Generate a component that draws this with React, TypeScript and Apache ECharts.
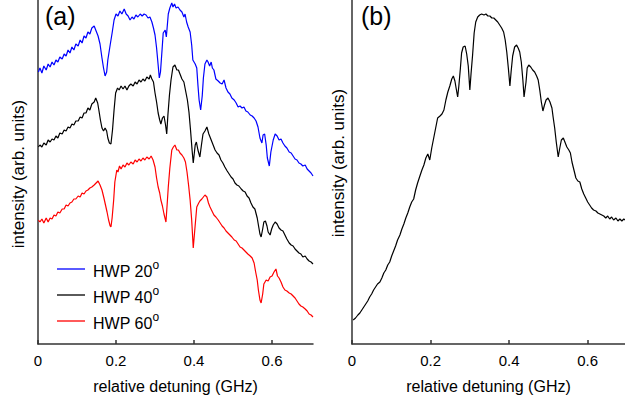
import React, { useEffect, useRef } from "react";
import * as echarts from "echarts";

const FONT = "'Liberation Sans', Arial, Helvetica, sans-serif";

// x: relative detuning (GHz), y: intensity (arb. units)
const hwp20: [number, number][] = [
  [0.001, 272], [0.005, 276], [0.010, 271], [0.015, 278], [0.021, 274], [0.026, 280], [0.031, 277], [0.036, 282],
  [0.041, 279], [0.046, 284], [0.051, 282], [0.056, 287], [0.062, 285], [0.067, 290], [0.072, 288], [0.077, 294],
  [0.082, 291], [0.087, 297], [0.092, 294], [0.097, 300], [0.103, 298], [0.108, 304], [0.113, 301], [0.118, 308],
  [0.123, 306], [0.128, 312], [0.133, 310], [0.138, 316], [0.144, 318], [0.149, 313], [0.154, 308], [0.159, 300],
  [0.164, 286], [0.168, 276], [0.172, 268], [0.176, 272], [0.179, 284], [0.185, 299], [0.190, 311], [0.195, 324],
  [0.200, 330], [0.205, 328], [0.210, 333], [0.215, 330], [0.221, 335], [0.226, 330], [0.231, 328], [0.236, 324],
  [0.241, 327], [0.246, 325], [0.251, 329], [0.256, 327], [0.262, 330], [0.267, 328], [0.272, 330], [0.277, 329],
  [0.282, 326], [0.287, 327], [0.292, 322], [0.296, 316], [0.300, 309], [0.304, 296], [0.308, 279], [0.311, 266],
  [0.314, 272], [0.318, 294], [0.321, 311], [0.326, 314], [0.329, 307], [0.334, 330], [0.338, 336], [0.343, 341],
  [0.346, 337], [0.350, 340], [0.354, 336], [0.359, 337], [0.364, 334], [0.369, 332], [0.374, 327], [0.377, 330],
  [0.381, 322], [0.385, 317], [0.390, 312], [0.394, 299], [0.397, 284], [0.403, 280], [0.407, 276], [0.410, 259],
  [0.413, 244], [0.417, 234], [0.421, 248], [0.424, 266], [0.428, 280], [0.433, 284], [0.436, 282], [0.440, 278],
  [0.444, 282], [0.447, 276], [0.451, 274], [0.456, 265], [0.462, 263], [0.467, 261], [0.472, 260], [0.477, 264],
  [0.482, 256], [0.487, 252], [0.492, 250], [0.497, 246], [0.503, 244], [0.508, 241], [0.513, 237], [0.518, 238],
  [0.523, 236], [0.528, 237], [0.533, 233], [0.538, 232], [0.544, 229], [0.549, 228], [0.554, 226], [0.559, 223],
  [0.564, 217], [0.569, 206], [0.574, 201], [0.577, 209], [0.581, 210], [0.585, 199], [0.588, 186], [0.593, 178],
  [0.597, 192], [0.603, 204], [0.608, 210], [0.613, 208], [0.618, 204], [0.623, 205], [0.628, 201], [0.633, 198],
  [0.638, 196], [0.644, 192], [0.649, 191], [0.654, 188], [0.659, 185], [0.664, 184], [0.669, 181], [0.674, 180],
  [0.679, 178], [0.685, 179], [0.690, 175], [0.695, 173], [0.700, 171], [0.705, 168],
];

const hwp40: [number, number][] = [
  [0.001, 197], [0.005, 199], [0.010, 197], [0.015, 201], [0.021, 199], [0.026, 204], [0.031, 202], [0.036, 205],
  [0.041, 204], [0.046, 208], [0.051, 206], [0.056, 211], [0.062, 210], [0.067, 214], [0.072, 213], [0.077, 217],
  [0.082, 216], [0.087, 220], [0.092, 219], [0.097, 223], [0.103, 223], [0.108, 227], [0.113, 226], [0.118, 231],
  [0.123, 231], [0.128, 236], [0.133, 234], [0.138, 240], [0.144, 242], [0.148, 246], [0.153, 241], [0.156, 234],
  [0.160, 224], [0.164, 216], [0.168, 213], [0.172, 216], [0.176, 213], [0.179, 206], [0.183, 201], [0.187, 200],
  [0.191, 214], [0.195, 234], [0.199, 251], [0.204, 256], [0.208, 254], [0.213, 258], [0.218, 255], [0.223, 258],
  [0.228, 254], [0.233, 258], [0.238, 260], [0.244, 258], [0.249, 262], [0.254, 260], [0.259, 264], [0.264, 262],
  [0.269, 265], [0.274, 263], [0.279, 267], [0.285, 265], [0.288, 269], [0.292, 265], [0.296, 262], [0.300, 251],
  [0.304, 242], [0.308, 231], [0.312, 224], [0.315, 220], [0.319, 226], [0.323, 228], [0.327, 219], [0.330, 210],
  [0.333, 229], [0.337, 249], [0.341, 264], [0.346, 277], [0.351, 279], [0.356, 274], [0.360, 274], [0.364, 270],
  [0.369, 265], [0.374, 262], [0.379, 252], [0.383, 244], [0.387, 232], [0.391, 214], [0.395, 194], [0.398, 181],
  [0.403, 199], [0.406, 202], [0.410, 194], [0.415, 187], [0.419, 199], [0.423, 210], [0.428, 213], [0.433, 217],
  [0.438, 210], [0.444, 204], [0.449, 199], [0.454, 194], [0.459, 191], [0.464, 189], [0.469, 184], [0.474, 181],
  [0.479, 177], [0.485, 173], [0.490, 170], [0.495, 167], [0.500, 165], [0.505, 161], [0.510, 159], [0.515, 158],
  [0.521, 155], [0.526, 153], [0.531, 152], [0.536, 148], [0.541, 146], [0.546, 141], [0.551, 137], [0.556, 135],
  [0.562, 126], [0.565, 119], [0.569, 110], [0.572, 107], [0.576, 115], [0.579, 122], [0.583, 123], [0.587, 118],
  [0.590, 112], [0.595, 109], [0.599, 115], [0.603, 119], [0.608, 122], [0.613, 120], [0.618, 116], [0.623, 114],
  [0.628, 113], [0.633, 109], [0.638, 105], [0.644, 101], [0.649, 99], [0.654, 98], [0.659, 95], [0.664, 93],
  [0.669, 91], [0.674, 90], [0.679, 87], [0.685, 88], [0.690, 85], [0.695, 83], [0.700, 82], [0.705, 80],
];

const hwp60: [number, number][] = [
  [0.001, 124], [0.005, 122], [0.010, 125], [0.015, 121], [0.021, 126], [0.026, 122], [0.031, 126], [0.036, 125],
  [0.041, 129], [0.046, 128], [0.051, 132], [0.056, 131], [0.062, 135], [0.067, 135], [0.072, 139], [0.077, 138],
  [0.082, 141], [0.087, 142], [0.092, 145], [0.097, 145], [0.103, 148], [0.108, 147], [0.113, 151], [0.118, 150],
  [0.123, 153], [0.128, 154], [0.133, 156], [0.138, 157], [0.144, 159], [0.149, 161], [0.154, 163], [0.159, 159],
  [0.164, 154], [0.169, 146], [0.173, 139], [0.177, 132], [0.181, 124], [0.185, 118], [0.187, 117], [0.190, 126],
  [0.194, 144], [0.197, 162], [0.202, 174], [0.205, 172], [0.209, 178], [0.213, 175], [0.218, 179], [0.223, 177],
  [0.228, 181], [0.233, 179], [0.238, 182], [0.244, 180], [0.249, 184], [0.254, 182], [0.259, 185], [0.264, 183],
  [0.269, 186], [0.274, 184], [0.279, 187], [0.285, 185], [0.290, 188], [0.295, 184], [0.300, 177], [0.304, 166],
  [0.308, 157], [0.312, 151], [0.315, 144], [0.319, 138], [0.323, 130], [0.328, 122], [0.331, 139], [0.334, 157],
  [0.338, 176], [0.343, 194], [0.347, 197], [0.351, 199], [0.356, 194], [0.360, 194], [0.364, 191], [0.369, 189],
  [0.374, 186], [0.378, 182], [0.382, 172], [0.386, 159], [0.390, 144], [0.394, 124], [0.398, 96], [0.403, 119],
  [0.407, 137], [0.412, 141], [0.415, 143], [0.420, 145], [0.424, 147], [0.428, 149], [0.433, 147], [0.437, 141],
  [0.441, 137], [0.446, 133], [0.451, 129], [0.456, 127], [0.462, 124], [0.467, 121], [0.472, 118], [0.477, 116],
  [0.482, 113], [0.487, 111], [0.492, 109], [0.497, 107], [0.503, 104], [0.508, 103], [0.513, 100], [0.518, 97],
  [0.523, 96], [0.528, 94], [0.533, 92], [0.538, 90], [0.544, 88], [0.549, 86], [0.554, 81], [0.558, 72],
  [0.562, 64], [0.565, 54], [0.569, 44], [0.572, 41], [0.576, 50], [0.579, 60], [0.585, 64], [0.590, 63],
  [0.595, 67], [0.600, 68], [0.605, 72], [0.610, 75], [0.614, 68], [0.618, 66], [0.623, 62], [0.628, 57],
  [0.633, 54], [0.638, 53], [0.644, 51], [0.649, 50], [0.654, 48], [0.659, 46], [0.664, 43], [0.669, 40],
  [0.674, 38], [0.679, 37], [0.685, 35], [0.690, 33], [0.695, 30], [0.700, 29], [0.705, 27],
];

const panelB: [number, number][] = [
  [0.003, 24], [0.009, 26], [0.015, 29], [0.020, 31], [0.025, 34], [0.030, 37], [0.035, 40], [0.040, 43],
  [0.045, 47], [0.050, 50], [0.055, 54], [0.060, 57], [0.065, 60], [0.071, 62], [0.076, 66], [0.081, 71],
  [0.086, 74], [0.091, 79], [0.096, 82], [0.101, 88], [0.106, 93], [0.111, 98], [0.116, 104], [0.122, 109],
  [0.127, 115], [0.132, 120], [0.137, 126], [0.142, 131], [0.147, 137], [0.152, 142], [0.157, 145], [0.162, 154],
  [0.167, 161], [0.172, 167], [0.178, 174], [0.183, 179], [0.188, 186], [0.193, 190], [0.198, 184], [0.203, 196],
  [0.208, 206], [0.213, 216], [0.218, 226], [0.224, 228], [0.229, 230], [0.234, 234], [0.239, 244], [0.244, 252],
  [0.249, 258], [0.254, 265], [0.258, 268], [0.262, 263], [0.265, 256], [0.269, 247], [0.272, 258], [0.276, 276],
  [0.279, 291], [0.283, 297], [0.288, 298], [0.292, 290], [0.296, 278], [0.300, 254], [0.303, 270], [0.307, 289],
  [0.311, 311], [0.315, 322], [0.320, 327], [0.325, 329], [0.330, 330], [0.336, 329], [0.341, 330], [0.346, 328],
  [0.351, 328], [0.356, 326], [0.361, 326], [0.366, 324], [0.371, 322], [0.376, 319], [0.381, 316], [0.386, 312],
  [0.390, 304], [0.394, 292], [0.398, 276], [0.402, 258], [0.405, 272], [0.409, 288], [0.414, 297], [0.419, 299],
  [0.423, 296], [0.427, 292], [0.431, 282], [0.435, 264], [0.438, 247], [0.443, 262], [0.446, 276], [0.450, 279],
  [0.455, 277], [0.460, 274], [0.465, 272], [0.470, 268], [0.474, 264], [0.478, 254], [0.482, 242], [0.486, 233],
  [0.490, 239], [0.494, 244], [0.499, 246], [0.504, 242], [0.509, 236], [0.512, 227], [0.516, 216], [0.520, 202],
  [0.525, 187], [0.529, 196], [0.533, 204], [0.538, 206], [0.542, 202], [0.547, 197], [0.552, 194], [0.556, 191],
  [0.560, 182], [0.565, 174], [0.570, 166], [0.575, 163], [0.580, 162], [0.585, 155], [0.590, 150], [0.595, 146],
  [0.600, 142], [0.605, 139], [0.610, 136], [0.615, 134], [0.621, 133], [0.626, 131], [0.631, 130], [0.636, 129],
  [0.641, 128], [0.646, 126], [0.651, 128], [0.656, 125], [0.661, 127], [0.666, 124], [0.672, 126], [0.677, 123],
  [0.682, 125], [0.687, 123], [0.692, 125], [0.695, 124],
];

const xTicks = [0, 0.2, 0.4, 0.6];
const legendNames = ["HWP 20", "HWP 40", "HWP 60"];
const seriesColors = ["#0000ff", "#000000", "#ff0000"];
const xAxisTitle = "relative detuning (GHz)";
const yAxisTitle = "intensity (arb. units)";
const panelLabels = ["(a)", "(b)"];

export default function App() {
  const ref = useRef<HTMLDivElement>(null);

  useEffect(() => {
    if (!ref.current) return;
    const chart = echarts.init(ref.current, undefined, { renderer: "svg" });

    const axisLineStyle = { color: "#333", width: 1.5 };
    const makeX = (grid: number, max: number) => ({
      type: "value" as const,
      gridIndex: grid,
      min: 0,
      max,
      axisLine: { show: true, lineStyle: axisLineStyle },
      axisTick: { show: true, inside: true, length: 4, customValues: xTicks, lineStyle: axisLineStyle },
      axisLabel: {
        customValues: xTicks,
        fontSize: 15,
        color: "#000",
        fontFamily: FONT,
        margin: 9,
        formatter: (v: number) => (v === 0 ? "0" : String(Number(v.toFixed(1)))),
      },
      splitLine: { show: false },
      name: xAxisTitle,
      nameLocation: "middle" as const,
      nameGap: 34,
      nameTextStyle: { fontSize: 16, color: "#000", fontFamily: FONT },
    });
    const makeY = (grid: number) => ({
      type: "value" as const,
      gridIndex: grid,
      min: 0,
      max: 344,
      axisLine: { show: true, lineStyle: axisLineStyle },
      axisTick: { show: false },
      axisLabel: { show: false },
      splitLine: { show: false },
    });

    const seriesA = [hwp20, hwp40, hwp60].map((d, i) => ({
      type: "line" as const,
      name: legendNames[i],
      xAxisIndex: 0,
      yAxisIndex: 0,
      data: d,
      symbol: "none",
      lineStyle: { color: seriesColors[i], width: 1.2 },
      itemStyle: { color: seriesColors[i] },
      silent: true,
    }));

    chart.setOption({
      animation: false,
      backgroundColor: "#fff",
      grid: [
        { left: 38, right: 312, top: 0, bottom: 58 },
        { left: 352, right: 0, top: 0, bottom: 58 },
      ],
      xAxis: [makeX(0, 0.705), makeX(1, 0.695)],
      yAxis: [makeY(0), makeY(1)],
      legend: {
        data: legendNames,
        orient: "vertical",
        left: 52,
        top: 254,
        icon: "rect",
        itemWidth: 28,
        itemHeight: 1.3,
        itemGap: 6,
        selectedMode: false,
        formatter: (name: string) => `{b|${name}}{sup|o}`,
        textStyle: {
          color: "#000",
          fontFamily: FONT,
          fontSize: 16,
          padding: [0, 0, 0, 3],
          rich: {
            b: { fontSize: 16, fontFamily: FONT, color: "#000", lineHeight: 20, verticalAlign: "bottom" },
            sup: { fontSize: 12, fontFamily: FONT, color: "#000", lineHeight: 12, verticalAlign: "top" },
          },
        },
      },
      graphic: [
        { type: "text", left: 45, top: 3, style: { text: panelLabels[0], fontSize: 25, fontFamily: FONT, fill: "#000" } },
        { type: "text", left: 361, top: 3, style: { text: panelLabels[1], fontSize: 25, fontFamily: FONT, fill: "#000" } },
        {
          type: "text",
          x: 18,
          y: 174,
          rotation: Math.PI / 2,
          style: { text: yAxisTitle, fontSize: 17, fontFamily: FONT, fill: "#000", align: "center", verticalAlign: "middle" },
        },
        {
          type: "text",
          x: 338,
          y: 163,
          rotation: Math.PI / 2,
          style: { text: yAxisTitle, fontSize: 17, fontFamily: FONT, fill: "#000", align: "center", verticalAlign: "middle" },
        },
      ],
      series: [
        ...seriesA,
        {
          type: "line",
          name: "sum",
          xAxisIndex: 1,
          yAxisIndex: 1,
          data: panelB,
          symbol: "none",
          lineStyle: { color: "#000", width: 1.2 },
          silent: true,
        },
      ],
    });

    return () => chart.dispose();
  }, []);

  return (
    <div
      ref={ref}
      style={{ position: "fixed", left: 0, top: 0, width: 625, height: 402, background: "#fff" }}
    />
  );
}
